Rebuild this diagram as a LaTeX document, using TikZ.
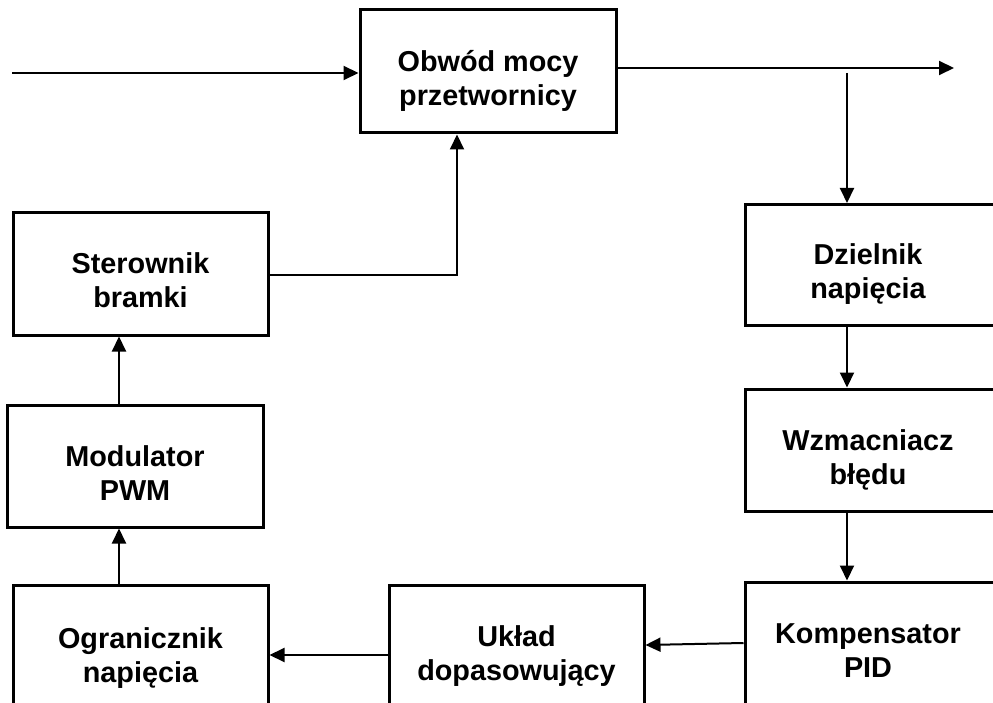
\documentclass[tikz,border=0pt]{standalone}
\usepackage{fontspec}
\setmainfont{Liberation Sans}
\usetikzlibrary{arrows.meta,calc}
\newcommand{\bxtext}[2][0pt]{\raisebox{0pt}[\dimexpr\height+20.4pt\relax][\depth]{\begin{tabular}{@{}c@{\hspace{#1}}}#2\end{tabular}}}
\begin{document}
\begin{tikzpicture}[x=1pt,y=-1pt,
  blk/.style={draw=black,line width=3pt,fill=white,inner sep=0pt,
    font=\fontsize{28.8}{34}\selectfont\bfseries},
  arr/.style={draw=black,line width=2pt,-{Triangle[length=15pt,width=14pt]}},
  ln/.style={draw=black,line width=2pt}]
\useasboundingbox (0,0) rectangle (993,703);
\clip (0,0) rectangle (993,703);
\node[blk,minimum width=256pt,minimum height=123pt] (obw) at (488,71.5) {\bxtext{Obwód mocy\\przetwornicy}};
\node[blk,minimum width=260pt,minimum height=121pt] (dz) at (875,265) {\bxtext[14pt]{Dzielnik\\napięcia}};
\node[blk,minimum width=260pt,minimum height=122pt] (wz) at (875,450) {\bxtext[14pt]{Wzmacniacz\\błędu}};
\node[blk,minimum width=260pt,minimum height=122pt] (komp) at (875,643) {\bxtext[14pt]{Kompensator\\PID}};
\node[blk,minimum width=255pt,minimum height=122pt] (ukl) at (516.5,646) {\bxtext{Układ\\dopasowujący}};
\node[blk,minimum width=255pt,minimum height=126pt] (ogr) at (140.5,648) {\bxtext{Ogranicznik\\napięcia}};
\node[blk,minimum width=256pt,minimum height=122pt] (mod) at (135,466) {\bxtext{Modulator\\PWM}};
\node[blk,minimum width=255pt,minimum height=122pt] (ste) at (140.5,274) {\bxtext{Sterownik\\bramki}};
\coordinate (in) at (12,73);
\coordinate (out) at (954,68);
\coordinate (br) at (847,73);
\coordinate (fb) at (457,275);
\draw[arr] (in) -- ($(obw.west)+(0,1.5)$);
\draw[arr] ($(obw.east)+(0,-3.5)$) -- (out);
\draw[arr] (br) -- ($(dz.north)+(-28,0)$);
\draw[arr] ($(dz.south)+(-28,0)$) -- ($(wz.north)+(-28,0)$);
\draw[arr] ($(wz.south)+(-28,0)$) -- ($(komp.north)+(-28,0)$);
\draw[arr] (komp.west) -- ($(ukl.east)+(0,-1)$);
\draw[arr] ($(ukl.west)+(0,9)$) -- ($(ogr.east)+(0,7)$);
\draw[arr] ($(ogr.north)+(-21.5,0)$) -- ($(mod.south)+(-16,0)$);
\draw[arr] ($(mod.north)+(-16,0)$) -- ($(ste.south)+(-21.5,0)$);
\draw[arr] ($(ste.east)+(0,1)$) -- (fb) -- ($(obw.south)+(-31,0)$);
\end{tikzpicture}
\end{document}
